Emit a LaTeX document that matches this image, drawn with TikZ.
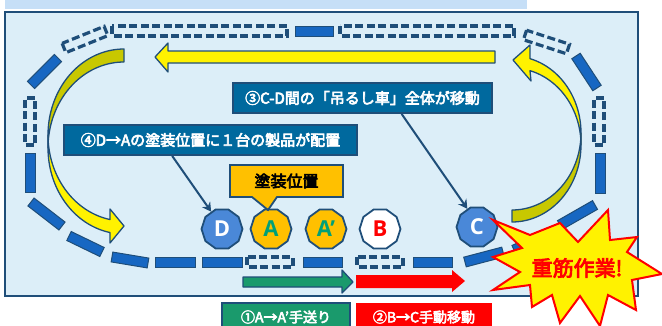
\documentclass[tikz,border=0pt]{standalone}
\usepackage{fontspec}
\setmainfont{Noto Sans CJK JP}[AutoFakeBold=4]
\newfontfamily\latinbold{Open Sans}
\usetikzlibrary{calc,shapes.geometric,arrows.meta}
\definecolor{dkblue}{HTML}{1F4E79}
\definecolor{trkblue}{HTML}{1767C2}
\definecolor{bgframe}{HTML}{DCEEF8}
\definecolor{bgtop}{HTML}{C6DFF7}
\definecolor{olivey}{HTML}{C8C800}
\definecolor{labblue}{HTML}{00699E}
\definecolor{nodeblue}{HTML}{4A88D8}
\definecolor{orng}{HTML}{FFC000}
\definecolor{tealg}{HTML}{00A077}
\definecolor{grn}{HTML}{1A9A6C}
\newcommand{\trk}[3]{\draw[#1] ($(#2)!5pt!90:(#3)$) -- ($(#2)!5pt!-90:(#3)$) -- ($(#3)!5pt!90:(#2)$) -- ($(#3)!5pt!-90:(#2)$) -- cycle;}
\tikzset{
  solidtray/.style={fill=trkblue,draw=dkblue,line width=1pt},
  emptytray/.style={draw=dkblue,line width=3.2pt,dash pattern=on 8pt off 3.5pt},
  yarrow/.style={fill=yellow,draw=dkblue,line width=1.3pt,line join=round},
  oarrow/.style={fill=olivey,draw=dkblue,line width=1.3pt,line join=round},
  labbox/.style={fill=labblue,draw=dkblue,line width=1.8pt,text=white,font=\fontsize{15}{17}\selectfont\bfseries,minimum height=30pt,inner sep=0pt},
  stn/.style={regular polygon,regular polygon sides=10,minimum size=41pt,inner sep=0pt,draw=dkblue,line width=1.8pt,font=\latinbold\fontsize{22}{24}\selectfont\bfseries},
  conn/.style={draw=dkblue,line width=2pt,-{Stealth[length=9pt,width=10pt,inset=3pt]}},
}
\begin{document}
\begin{tikzpicture}[x=1pt,y=-1pt]
\useasboundingbox (0,0) rectangle (662,325);
% background
\fill[bgtop] (5,0) rectangle (527,9);
\draw[fill=bgframe,draw=dkblue,line width=1.5pt] (5,12) rectangle (638,296);
% track
\trk{emptytray}{112,31}{287,31}
\trk{solidtray}{295,31}{333,31}
\trk{emptytray}{340,31}{514,31}
\trk{emptytray}{525,35}{568,49}
\trk{solidtray}{576,56}{597,88}
\trk{emptytray}{599,98}{599,145}
\trk{solidtray}{600,153}{600,193}
\trk{solidtray}{595,205}{560,225}
\trk{solidtray}{550,234}{514,250}
\trk{solidtray}{503,252}{465,262}
\trk{solidtray}{413,262}{452,262}
\trk{emptytray}{357,262}{403,262}
\trk{solidtray}{303,262}{342,262}
\trk{emptytray}{247,262}{293,262}
\trk{solidtray}{202,262}{242,262}
\trk{solidtray}{155,262}{195,262}
\trk{solidtray}{148,263}{112,257}
\trk{solidtray}{102,252}{69,236}
\trk{solidtray}{62,226}{31,202}
\trk{solidtray}{30,153}{30,192}
\trk{emptytray}{30,98}{30,145}
\trk{solidtray}{31,85}{58,58}
\trk{emptytray}{64,48}{106,31}
% top straight yellow arrow
\draw[yarrow] (495,51) -- (168,51) -- (168,43) -- (155,57) -- (168,72) -- (168,63) -- (495,63) -- cycle;
% left curved arrow
\draw[oarrow] plot[variable=\t,domain=90:180,samples=40] ({124+76*cos(\t)},{135-86*sin(\t)})
  -- plot[variable=\t,domain=180:90,samples=40] ({124+76*cos(\t)},{148-86*sin(\t)}) -- cycle;
\draw[yarrow] plot[variable=\t,domain=180:259.4,samples=40] ({124+76*cos(\t)},{135-86*sin(\t)})
  -- (110,209) -- (124,226) -- (110,243)
  -- plot[variable=\t,domain=259.4:180,samples=40] ({124+76*cos(\t)},{148-86*sin(\t)}) -- cycle;
% right curved arrow
\draw[yarrow] plot[variable=\t,domain=74.9:0,samples=40] ({512+69*cos(\t)},{133-77*sin(\t)})
  -- plot[variable=\t,domain=0:74.9,samples=40] ({512+69*cos(\t)},{145-77*sin(\t)})
  -- (531,81) -- (513,60) -- (530,45) -- cycle;
\draw[oarrow] plot[variable=\t,domain=0:-90,samples=40] ({512+69*cos(\t)},{133-77*sin(\t)})
  -- plot[variable=\t,domain=-90:0,samples=40] ({512+69*cos(\t)},{145-77*sin(\t)}) -- cycle;
% bottom arrows
\draw[fill=grn,draw=dkblue,line width=1.3pt,line join=round] (243,277) -- (342,277) -- (342,270) -- (353,282) -- (342,293) -- (342,287) -- (243,287) -- cycle;
\fill[red] (356,275) -- (452,275) -- (452,270) -- (465,281) -- (452,292) -- (452,288) -- (356,288) -- cycle;
% stations
\node[stn,fill=nodeblue,text=white] (D) at (222,229) {D};
\node[stn,fill=orng,text=tealg] (A) at (271,229) {A};
\node[stn,fill=orng,text=tealg] (A2) at (326,229) {A’};
\node[stn,fill=white,text=red] (B) at (380,229) {B};
\node[stn,fill=nodeblue,text=white] (C) at (477,227) {C};
% callout
\draw[fill=orng,draw=dkblue,line width=1.8pt,line join=miter] (230,165) -- (343,165) -- (343,197) -- (277,197) -- (268,210) -- (252,197) -- (230,197) -- cycle;
\node[font=\fontsize{16}{18}\selectfont\bfseries] (coat) at (286.5,181) {塗装位置};
% labels
\node[labbox,minimum width=259pt] (lab3) at (362.5,98) {③C-D間の「吊るし車」全体が移動};
\node[labbox,minimum width=293pt] (lab4) at (210.5,140) {④D→Aの塗装位置に１台の製品が配置};
\draw[conn] ($(lab3.south west)!0.65!(lab3.south east)$) -- (C.118);
\draw[conn] ($(lab4.south west)!0.37!(lab4.south east)$) -- (D.122);
% bottom labels
\node[fill=grn,draw=dkblue,line width=1.5pt,text=white,minimum width=128pt,minimum height=28pt,inner sep=0pt,font=\fontsize{14}{16}\selectfont\bfseries] (l1) at (286,317) {①A→A’手送り};
\node[fill=red,text=white,minimum width=136pt,minimum height=28pt,inner sep=0pt,font=\fontsize{14}{16}\selectfont\bfseries] (l2) at (424,317) {②B→C手動移動};
% starburst
\draw[fill=yellow,draw=red,line width=2pt,line join=miter]
 (493,220) -- (530,235) -- (560,223) -- (578,242) -- (608,210) -- (610,240) -- (637,237) -- (627,252)
 -- (662,274) -- (632,280) -- (636,310) -- (608,295) -- (600,326) -- (580,296) -- (560,323) -- (552,295)
 -- (532,307) -- (530,285) -- (493,290) -- (520,272) -- (493,257) -- (522,248) -- cycle;
\node[text=red,font=\fontsize{21}{23}\selectfont\bfseries] (heavy) at (577,268) {重筋作業!};
\end{tikzpicture}
\end{document}
